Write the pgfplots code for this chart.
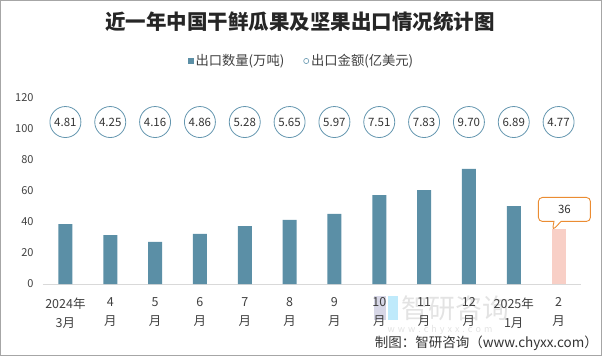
\documentclass[border=0pt]{standalone}
\usepackage{pgfplots}
\pgfplotsset{compat=1.18}
\usepackage{fontspec}
\setmainfont{Noto Sans CJK SC}
\usetikzlibrary{shapes.callouts}
\definecolor{barblue}{RGB}{91,143,166}
\definecolor{barpink}{RGB}{248,207,198}
\definecolor{circ}{RGB}{100,150,175}
\definecolor{callout}{RGB}{235,140,50}
\definecolor{txt}{RGB}{64,64,64}
\definecolor{axisgray}{RGB}{217,217,217}
\begin{document}
\begin{tikzpicture}[x=1pt,y=1pt]
\draw[gray!70, line width=1pt] (0.5,0.5) rectangle (601.5,355.5);
% watermark
\node[text=gray!22, font=\fontsize{27}{27}\selectfont] at (455,48) {智研咨询};
\node[text=gray!22, font=\fontsize{9}{9}\selectfont] at (440,26) {w\,\,w\,\,w\,\,.\,\,c\,\,h\,\,y\,\,x\,\,x\,\,.\,\,c\,\,o\,\,m};
\fill[blue!25!gray!25] (374,36) rectangle (386,60);
\fill[cyan!25] (388,36) rectangle (398,60);
\begin{axis}[
  at={(43pt,72pt)}, anchor=south west,
  scale only axis, width=538pt, height=186pt,
  xmin=-0.5, xmax=11.5, ymin=0, ymax=120,
  ytick={0,20,...,120},
  xtick={0,...,11},
  xticklabels={2024年\\3月,4\\月,5\\月,6\\月,7\\月,8\\月,9\\月,10\\月,11\\月,12\\月,2025年\\1月,2\\月},
  xticklabel style={align=center, font=\fontsize{12.5}{19}\selectfont, text=txt, yshift=-10pt},
  yticklabel style={font=\fontsize{11}{11}\selectfont, text=txt, xshift=-6pt},
  /pgf/number format/assume math mode=true,
  axis line style={draw=none},
  axis x line*=bottom,
  x axis line style={draw=axisgray, line width=1pt},
  tick style={draw=none},
  clip=false,
  legend columns=2,
  legend style={at={(0.481,1.199)}, anchor=center, draw=none, fill=none,
    font=\fontsize{13.3}{13.3}\selectfont, text=txt,
    /tikz/every even column/.append style={column sep=17pt}},
]
\addplot[ybar, bar width=14pt, bar shift=0pt, fill=barblue, draw=none,
  legend image code/.code={\fill[barblue] (0pt,-2.6pt) rectangle (5.2pt,2.6pt);}]
  coordinates {(0,38.7) (1,31.6) (2,27.1) (3,32.3) (4,37.4) (5,41.3) (6,45.2) (7,57.4) (8,60.6) (9,74.2) (10,50.3)};
\addlegendentry{出口数量(万吨)}
\addplot[draw=none, mark=none,
  legend image code/.code={\draw[circ, line width=0.6pt] (2.6pt,0pt) circle (2.6pt);},
  nodes near coords, point meta=explicit symbolic,
  every node near coord/.append style={anchor=center, circle, draw=circ, line width=0.8pt,
     minimum size=31pt, inner sep=0pt, text=black!80, font=\fontsize{11.5}{11.5}\selectfont}]
  table[meta=v] {
x y v
0 104.5 4.81
1 104.5 4.25
2 104.5 4.16
3 104.5 4.86
4 104.5 5.28
5 104.5 5.65
6 104.5 5.97
7 104.5 7.51
8 104.5 7.83
9 104.5 9.70
10 104.5 6.89
11 104.5 4.77
};
\addlegendentry{出口金额(亿美元)}
\addplot[ybar, bar width=14pt, bar shift=0pt, fill=barpink, draw=none, forget plot]
  coordinates {(11,35.5)};
\node[rectangle callout, draw=callout, line width=0.9pt, rounded corners=4pt, fill=white,
  minimum width=52pt, minimum height=24pt, text=black!80, font=\fontsize{11.5}{11.5}\selectfont,
  callout absolute pointer={(axis cs:10.86,34.5)}] at (axis cs:11.13,48.1) {36};
\end{axis}
\node[anchor=center, text=black!85, font=\fontsize{20.5}{20.5}\selectfont\bfseries] at (300,334) {近一年中国干鲜瓜果及坚果出口情况统计图};
\node[anchor=east, text=black!80, font=\fontsize{13.5}{13.5}\selectfont, inner sep=0pt] at (598,13) {制图：智研咨询（www.chyxx.com）};
\end{tikzpicture}
\end{document}
